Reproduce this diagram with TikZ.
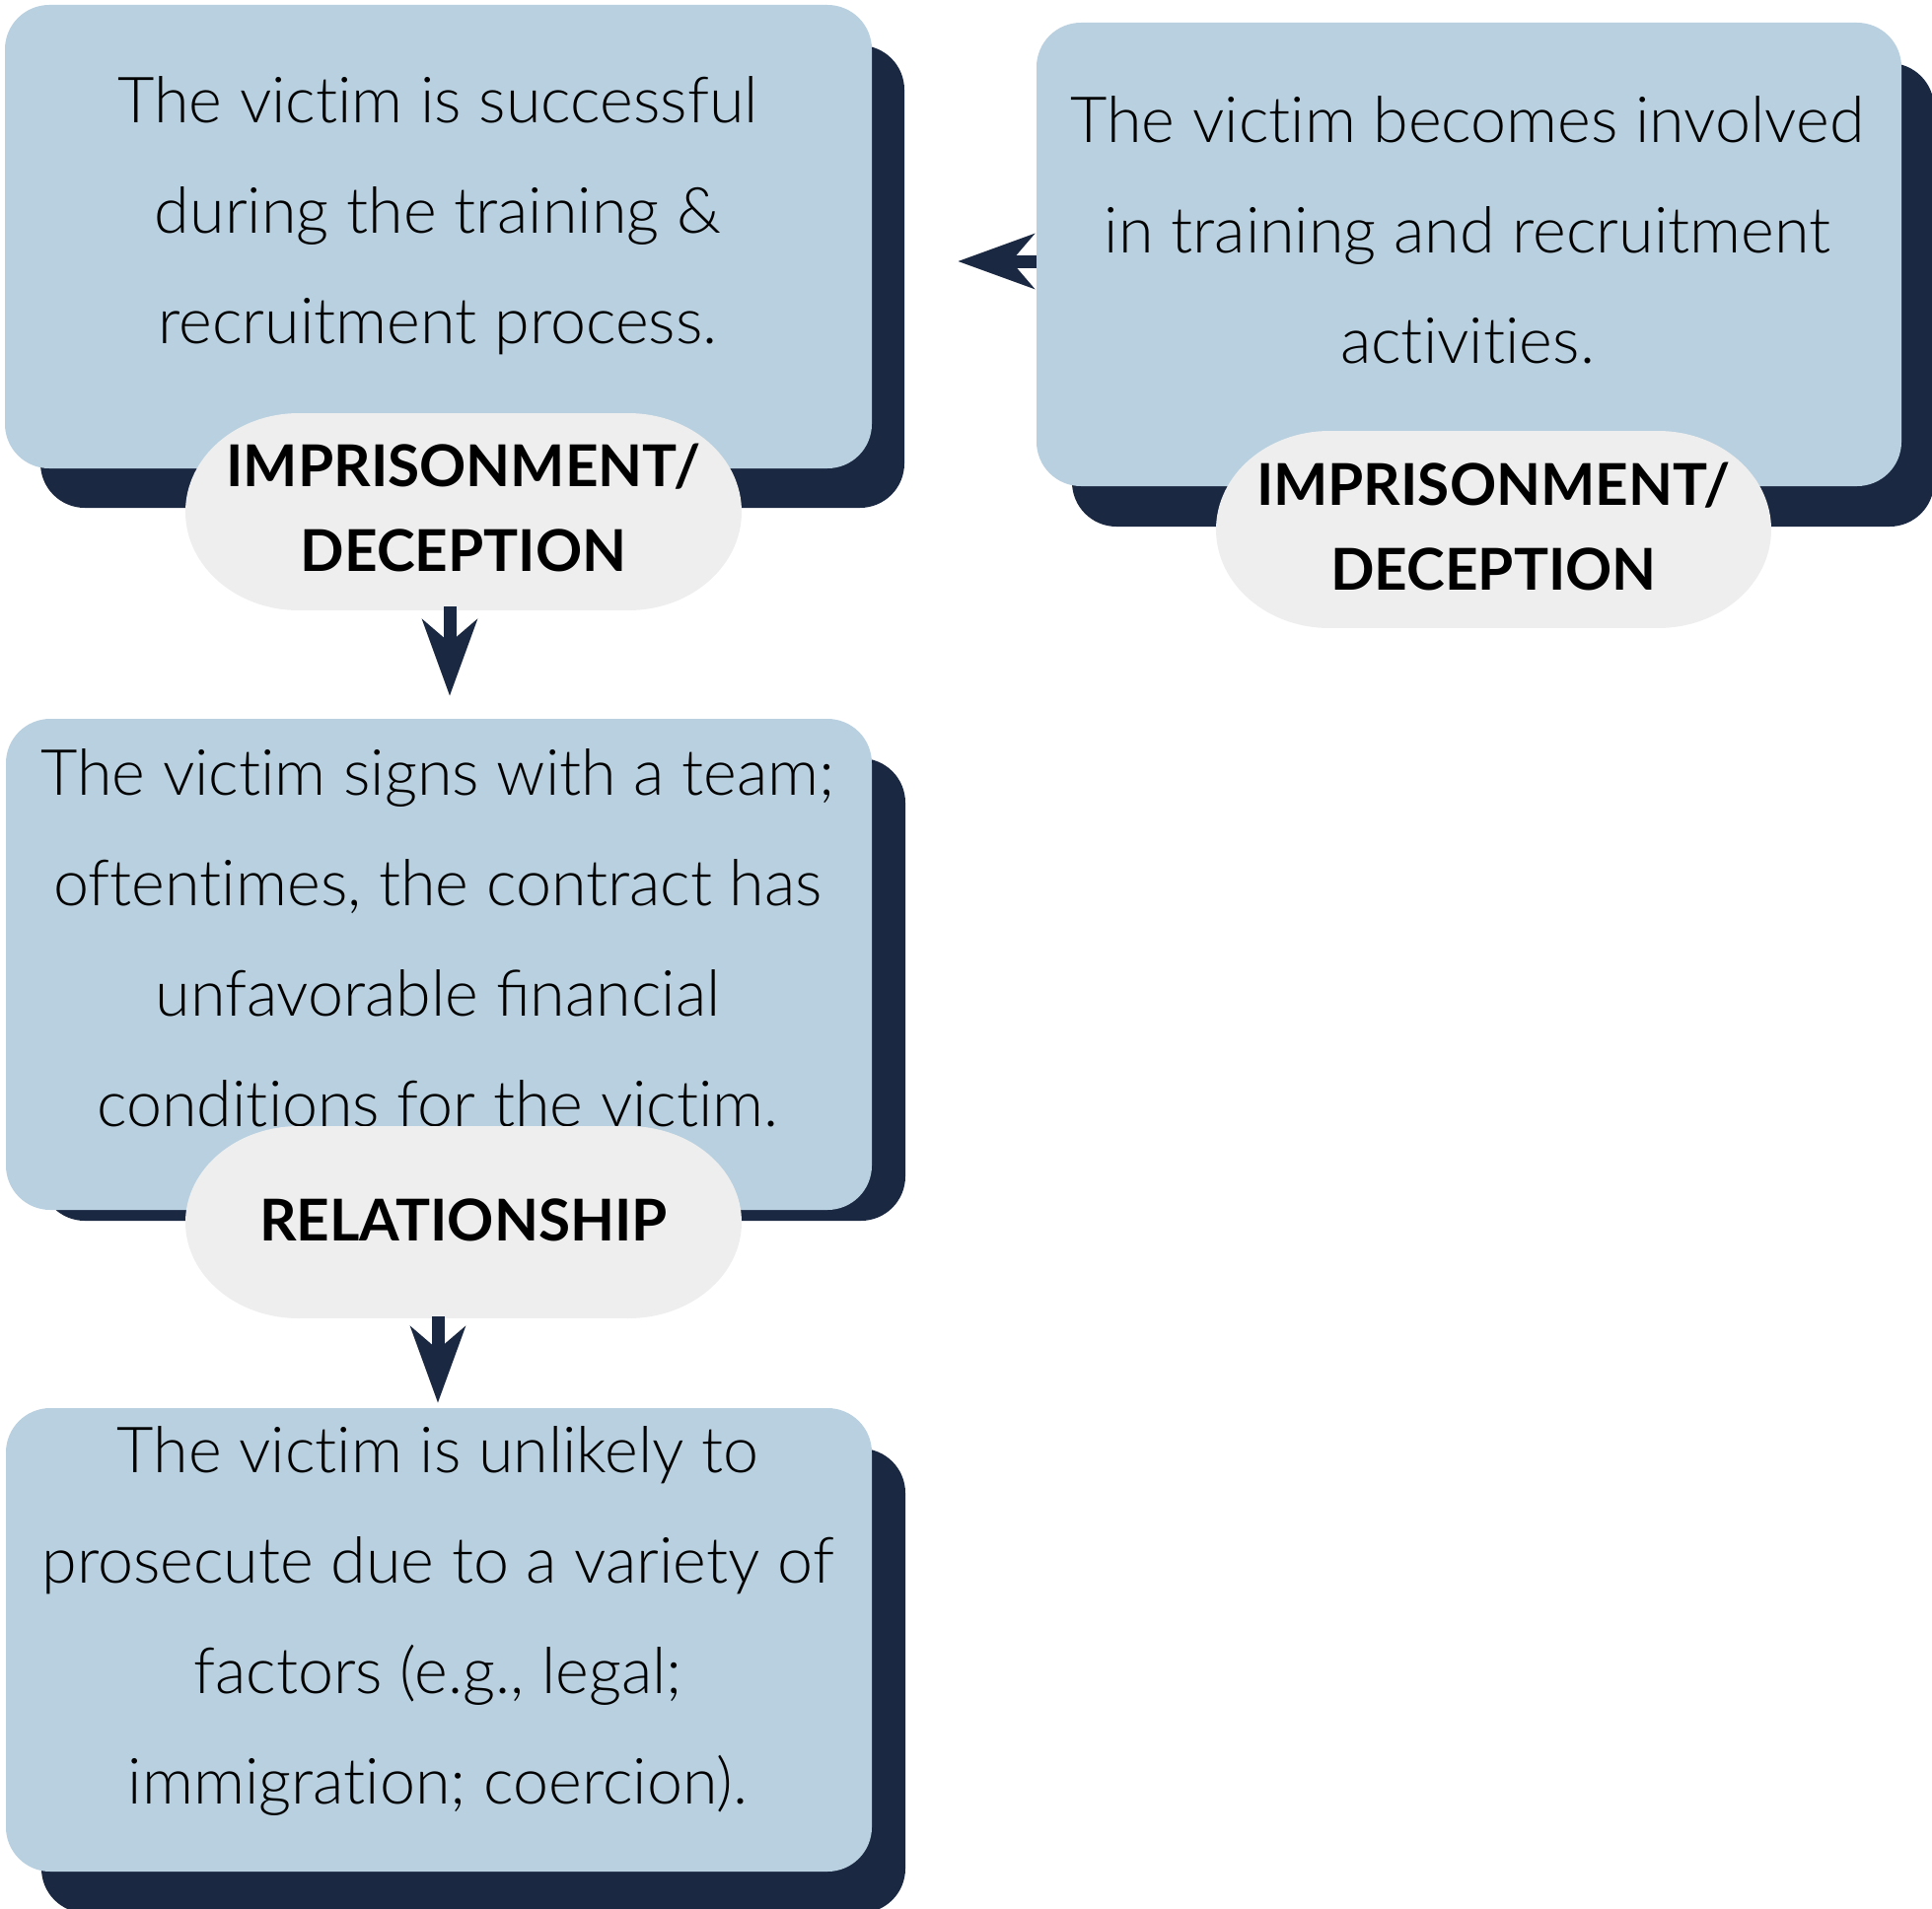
\documentclass[tikz,border=0pt]{standalone}
\usepackage{fontspec}
\setmainfont{Lato Light}[Ligatures=NoCommon]
\newfontfamily\labelfont{Lato Bold}
\usetikzlibrary{arrows.meta}
\definecolor{boxlight}{HTML}{B8D0DF}
\definecolor{boxdark}{HTML}{1B2842}
\definecolor{pillgray}{HTML}{EEEEEE}
\tikzset{
  shadowbox/.style={fill=boxdark, draw=none, rounded corners=45pt, inner sep=0pt},
  lightbox/.style={fill=boxlight, draw=none, rounded corners=45pt, inner sep=0pt},
  bodytext/.style={align=center, inner sep=0pt, font=\fontsize{64.6}{112}\selectfont, text=black},
  pilltext/.style={align=center, inner sep=0pt, font=\labelfont\fontsize{58.5}{86}\selectfont, text=black},
  pillfill/.style={fill=pillgray, draw=none},
  flowarrow/.style={draw=boxdark, line width=13pt, -{Stealth[length=77pt, width=55pt, inset=23pt, fill=boxdark]}},
}
\newcommand{\pillshape}[4]{% x0, x1, y0, y1 (pixels, y down)
  \fill[pillfill] ({#1+115},#3) rectangle ({#2-115},#4);
  \fill[pillfill] ({#1+115},{(#3+#4)/2}) ellipse [x radius=115pt, y radius={(#4-#3)/2*1pt}];
  \fill[pillfill] ({#2-115},{(#3+#4)/2}) ellipse [x radius=115pt, y radius={(#4-#3)/2*1pt}];
}
\begin{document}
\begin{tikzpicture}[x=1pt, y=-1pt]
\useasboundingbox (0,0) rectangle (1959,1935);

% ---- shadows
\node[shadowbox, minimum width=876pt, minimum height=469pt] (s1) at (479,280.5) {};
\node[shadowbox, minimum width=874pt, minimum height=470pt] (sR) at (1524,299) {};
\node[shadowbox, minimum width=877pt, minimum height=469pt] (s2) at (479.5,1003.5) {};
\node[shadowbox, minimum width=876pt, minimum height=471pt] (s3) at (480,1704.5) {};

% ---- light boxes
\node[lightbox, minimum width=879pt, minimum height=470pt] (b1) at (444.5,240) {};
\node[lightbox, minimum width=877pt, minimum height=470pt] (bR) at (1489.5,258) {};
\node[lightbox, minimum width=878pt, minimum height=498pt] (b2) at (445,978) {};
\node[lightbox, minimum width=878pt, minimum height=470pt] (b3) at (445,1663) {};

% ---- box texts
\node[bodytext] (t1) at (444,219) {The victim is successful\\during the training \&\\recruitment process.};
\node[bodytext] (tR) at (1488,233) {The victim becomes involved\\in training and recruitment\\activities.};
\node[bodytext] (t2) at (444,951) {The victim signs with a team;\\oftentimes, the contract has\\unfavorable ^^^^fb01nancial\\conditions for the victim.};
\node[bodytext] (t3) at (444,1644) {The victim is unlikely to\\prosecute due to a variety of\\factors (e.g., legal;\\immigration; coercion).};

% ---- pills
\pillshape{188}{752}{419}{619}
\pillshape{1233}{1796}{437}{637}
\pillshape{188}{752}{1142}{1337}
\node[pilltext, minimum width=564pt, minimum height=200pt] (p1) at (470,515) {IMPRISONMENT/\\DECEPTION};
\node[pilltext, minimum width=563pt, minimum height=200pt] (pR) at (1514.5,534) {IMPRISONMENT/\\DECEPTION};
\node[pilltext, minimum width=564pt, minimum height=195pt] (p2) at (470,1237.5) {RELATIONSHIP};

% ---- connectors
\coordinate (a1x) at (456,0);
\coordinate (a2x) at (444,0);
\coordinate (a3y) at (0,265);
\draw[flowarrow, shorten >=23pt] (p1.south -| a1x) -- (b2.north -| a1x);
\draw[flowarrow, shorten >=5pt] (p2.south -| a2x) -- (b3.north -| a2x);
\draw[flowarrow, shorten >=87pt] (bR.west |- a3y) -- (b1.east |- a3y);
\end{tikzpicture}
\end{document}
